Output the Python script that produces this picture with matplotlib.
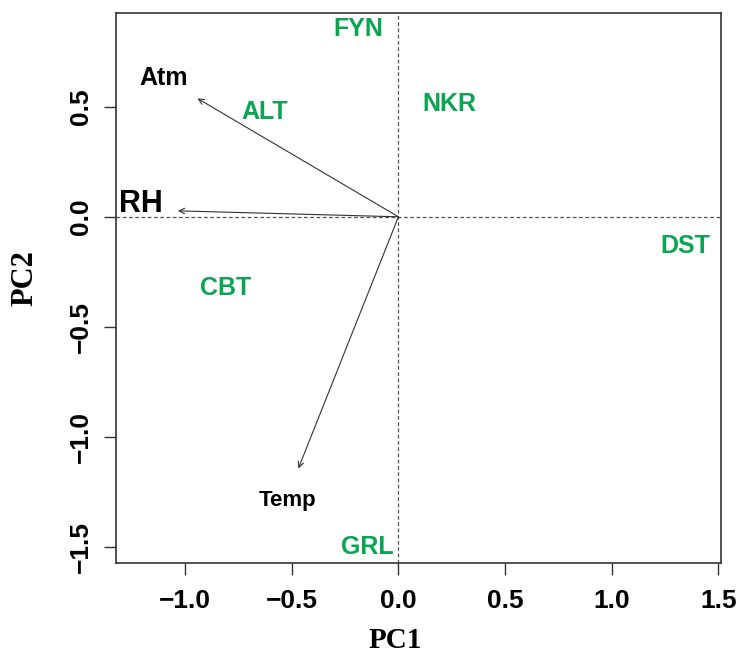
import numpy as np
import matplotlib
matplotlib.use("Agg")
import matplotlib.pyplot as plt

# site scores (PC1, PC2)
sites = ["FYN", "NKR", "ALT", "DST", "CBT", "GRL"]
site_pc1 = [-0.19, 0.238, -0.629, 1.345, -0.812, -0.147]
site_pc2 = [0.853, 0.511, 0.477, -0.132, -0.324, -1.501]

# variable loadings (arrow tips) and where their names sit
variables = ["Atm", "RH", "Temp"]
load_pc1 = [-0.942, -1.034, -0.469]
load_pc2 = [0.538, 0.027, -1.144]
lab_pc1 = [-1.101, -1.206, -0.519]
lab_pc2 = [0.629, 0.058, -1.288]
lab_size = [18, 22, 16]

xticks = [-1.0, -0.5, 0.0, 0.5, 1.0, 1.5]
yticks = [-1.5, -1.0, -0.5, 0.0, 0.5]

green = "#0AA550"
edge = "#333333"

fig = plt.figure(figsize=(7.4, 6.57), dpi=100)
ax = fig.add_axes([116 / 740, 1 - 563.3 / 657, (720.7 - 116) / 740, (563.3 - 13.3) / 657])
ax.set_xlim(-1.324, 1.511)
ax.set_ylim(-1.575, 0.925)

ax.axhline(0, color="#555555", lw=0.9, ls=(0, (3, 2)), zorder=1)
ax.axvline(0, color="#555555", lw=0.9, ls=(0, (3, 2)), zorder=1)

for x, y in zip(load_pc1, load_pc2):
    ax.annotate("", xy=(x, y), xytext=(0, 0),
                arrowprops=dict(arrowstyle="->", lw=0.8, color=edge,
                                mutation_scale=10, shrinkA=0, shrinkB=0))

for name, x, y, s in zip(variables, lab_pc1, lab_pc2, lab_size):
    ax.text(x, y, name, ha="center", va="center", fontsize=s,
            fontfamily="Liberation Sans", fontweight="bold", color="black")

for name, x, y in zip(sites, site_pc1, site_pc2):
    ax.text(x, y, name, ha="center", va="center", fontsize=18,
            fontfamily="Liberation Sans", fontweight="bold", color=green)

ax.set_xticks(xticks)
ax.set_yticks(yticks)
ax.set_xticklabels([f"{t:.1f}".replace("-", "\u2212") for t in xticks])
ax.set_yticklabels([f"{t:.1f}".replace("-", "\u2212") for t in yticks])
ax.tick_params(axis="x", pad=10)
ax.tick_params(axis="y", pad=8)
ax.tick_params(axis="both", length=8.6, width=1.0, color=edge, labelsize=19)
for lab in ax.get_xticklabels() + ax.get_yticklabels():
    lab.set_fontfamily("Liberation Sans")
    lab.set_fontweight("bold")
plt.setp(ax.get_yticklabels(), rotation=90, va="center")

for sp in ax.spines.values():
    sp.set_color(edge)
    sp.set_linewidth(1.2)

fig.text(395.7 / 740, 1 - 648 / 657, "PC1", ha="center", va="baseline",
         fontsize=21, fontfamily="Liberation Serif", fontweight="bold")
fig.text(25 / 740, 1 - 278.5 / 657, "PC2", ha="center", va="center",
         rotation=90, fontsize=22, fontfamily="Liberation Serif",
         fontweight="bold")

fig.savefig("out.png", dpi=100)
